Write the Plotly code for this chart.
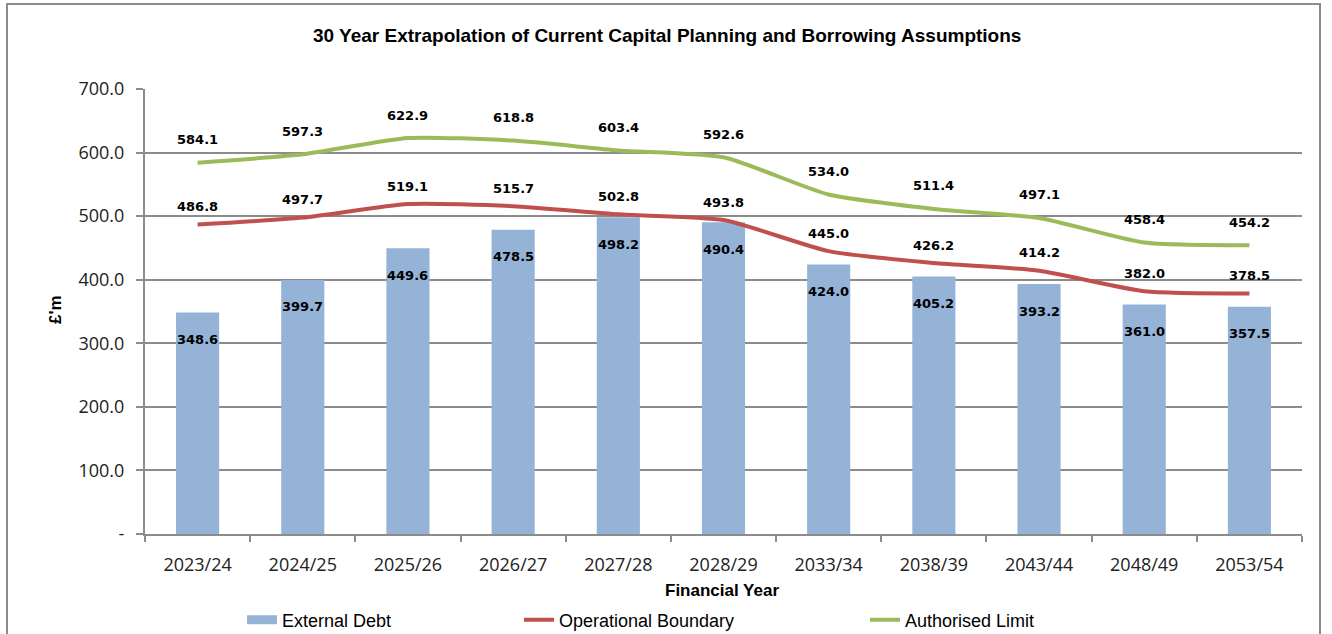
import plotly.graph_objects as go

years = ["2023/24", "2024/25", "2025/26", "2026/27", "2027/28", "2028/29",
         "2033/34", "2038/39", "2043/44", "2048/49", "2053/54"]
external_debt = [348.6, 399.7, 449.6, 478.5, 498.2, 490.4, 424.0, 405.2, 393.2, 361.0, 357.5]
operational_boundary = [486.8, 497.7, 519.1, 515.7, 502.8, 493.8, 445.0, 426.2, 414.2, 382.0, 378.5]
authorised_limit = [584.1, 597.3, 622.9, 618.8, 603.4, 592.6, 534.0, 511.4, 497.1, 458.4, 454.2]
y_ticks = [0, 100, 200, 300, 400, 500, 600, 700]
y_ticktext = ["-"] + [f"{v:.1f}" for v in y_ticks[1:]]

BAR_C = "#95B3D7"
RED_C = "#C0504D"
GREEN_C = "#9BBB59"
GRID_C = "#8C8C8C"
SANS = "Liberation Sans, Arial, sans-serif"
TICKF = "Open Sans, Noto Sans, sans-serif"
LABF = "DejaVu Sans, Verdana, sans-serif"

W, H = 1332, 634
L, R, T, B = 145, 30, 89, 100
PW, PH = W - L - R, H - T - B


def px_x(px):
    return (px - L) / PW


def px_y(py):
    return (T + PH - py) / PH


fig = go.Figure()
fig.add_trace(go.Bar(x=years, y=external_debt, name="External Debt",
                     marker=dict(color=BAR_C, line=dict(width=0)), showlegend=False))
fig.add_trace(go.Scatter(x=[None], y=[None], name="External Debt", mode="lines",
                         line=dict(color=BAR_C, width=9), legend="legend"))
fig.add_trace(go.Scatter(x=years, y=operational_boundary, name="Operational Boundary",
                         mode="lines", line=dict(color=RED_C, width=4, shape="spline", smoothing=0.6),
                         legend="legend2"))
fig.add_trace(go.Scatter(x=years, y=authorised_limit, name="Authorised Limit",
                         mode="lines", line=dict(color=GREEN_C, width=4, shape="spline", smoothing=0.6),
                         legend="legend3"))

annotations = []
lab_font = dict(family=LABF, size=13, color="#000000", weight="bold")
for x, v in zip(years, external_debt):
    annotations.append(dict(x=x, y=v, text=f"{v:.1f}", showarrow=False, yshift=-27, font=lab_font))
for x, v in zip(years, operational_boundary):
    annotations.append(dict(x=x, y=v, text=f"{v:.1f}", showarrow=False, yshift=18, font=lab_font))
for x, v in zip(years, authorised_limit):
    annotations.append(dict(x=x, y=v, text=f"{v:.1f}", showarrow=False, yshift=23, font=lab_font))

annotations.append(dict(xref="paper", yref="paper", x=px_x(722), y=px_y(590), text="Financial Year",
                        xanchor="center", yanchor="middle",
                        showarrow=False, font=dict(family=SANS, size=17, color="#000", weight="bold")))
annotations.append(dict(xref="paper", yref="paper", x=px_x(55), y=px_y(310), text="£'m", textangle=-90,
                        xanchor="center", yanchor="middle",
                        showarrow=False, font=dict(family=SANS, size=17, color="#000", weight="bold")))
annotations.append(dict(xref="paper", yref="paper", x=px_x(667), y=px_y(35), xanchor="center", yanchor="middle",
                        text="30 Year Extrapolation of Current Capital Planning and Borrowing Assumptions",
                        showarrow=False, font=dict(family=SANS, size=19, color="#000", weight="bold")))

leg_y = px_y(620)
leg_font = dict(family=SANS, size=18, color="#000")
fig.update_layout(
    width=W, height=H, autosize=False,
    margin=dict(l=L, r=R, t=T, b=B, autoexpand=False),
    paper_bgcolor="white", plot_bgcolor="white",
    barmode="overlay", bargap=0.59,
    showlegend=True,
    legend=dict(orientation="h", x=px_x(242), y=leg_y, xanchor="left", yanchor="middle",
                font=leg_font, bgcolor="rgba(0,0,0,0)"),
    legend2=dict(orientation="h", x=px_x(519), y=leg_y, xanchor="left", yanchor="middle",
                 font=leg_font, bgcolor="rgba(0,0,0,0)"),
    legend3=dict(orientation="h", x=px_x(865), y=leg_y, xanchor="left", yanchor="middle",
                 font=leg_font, bgcolor="rgba(0,0,0,0)"),
    annotations=annotations,
    shapes=[dict(type="rect", xref="paper", yref="paper",
                 x0=px_x(7), x1=px_x(1320), y0=px_y(660), y1=px_y(4),
                 line=dict(color="#8C8C8C", width=2), fillcolor="rgba(0,0,0,0)", layer="below")],
)

fig.update_xaxes(type="category", showgrid=False, showline=True, linecolor=GRID_C, linewidth=2,
                 ticks="outside", tickson="boundaries", ticklen=6, tickcolor=GRID_C, tickwidth=1.5,
                 ticklabelstandoff=13,
                 tickfont=dict(family=TICKF, size=18, color="#222"), range=[-0.5, 10.5],
                 automargin=False)
fig.update_yaxes(range=[0, 700], tickvals=y_ticks, ticktext=y_ticktext,
                 showgrid=True, gridcolor=GRID_C, gridwidth=2,
                 showline=True, linecolor=GRID_C, linewidth=2,
                 ticks="outside", ticklen=7, tickcolor=GRID_C, tickwidth=1.5,
                 ticklabelstandoff=8, automargin=False,
                 tickfont=dict(family=TICKF, size=18, color="#222"), zeroline=False)

fig.write_html("out.html", config={"displayModeBar": False, "responsive": False},
               post_script="document.body.style.margin='0';document.body.style.padding='0';"
                           "document.body.style.overflow='hidden';")
